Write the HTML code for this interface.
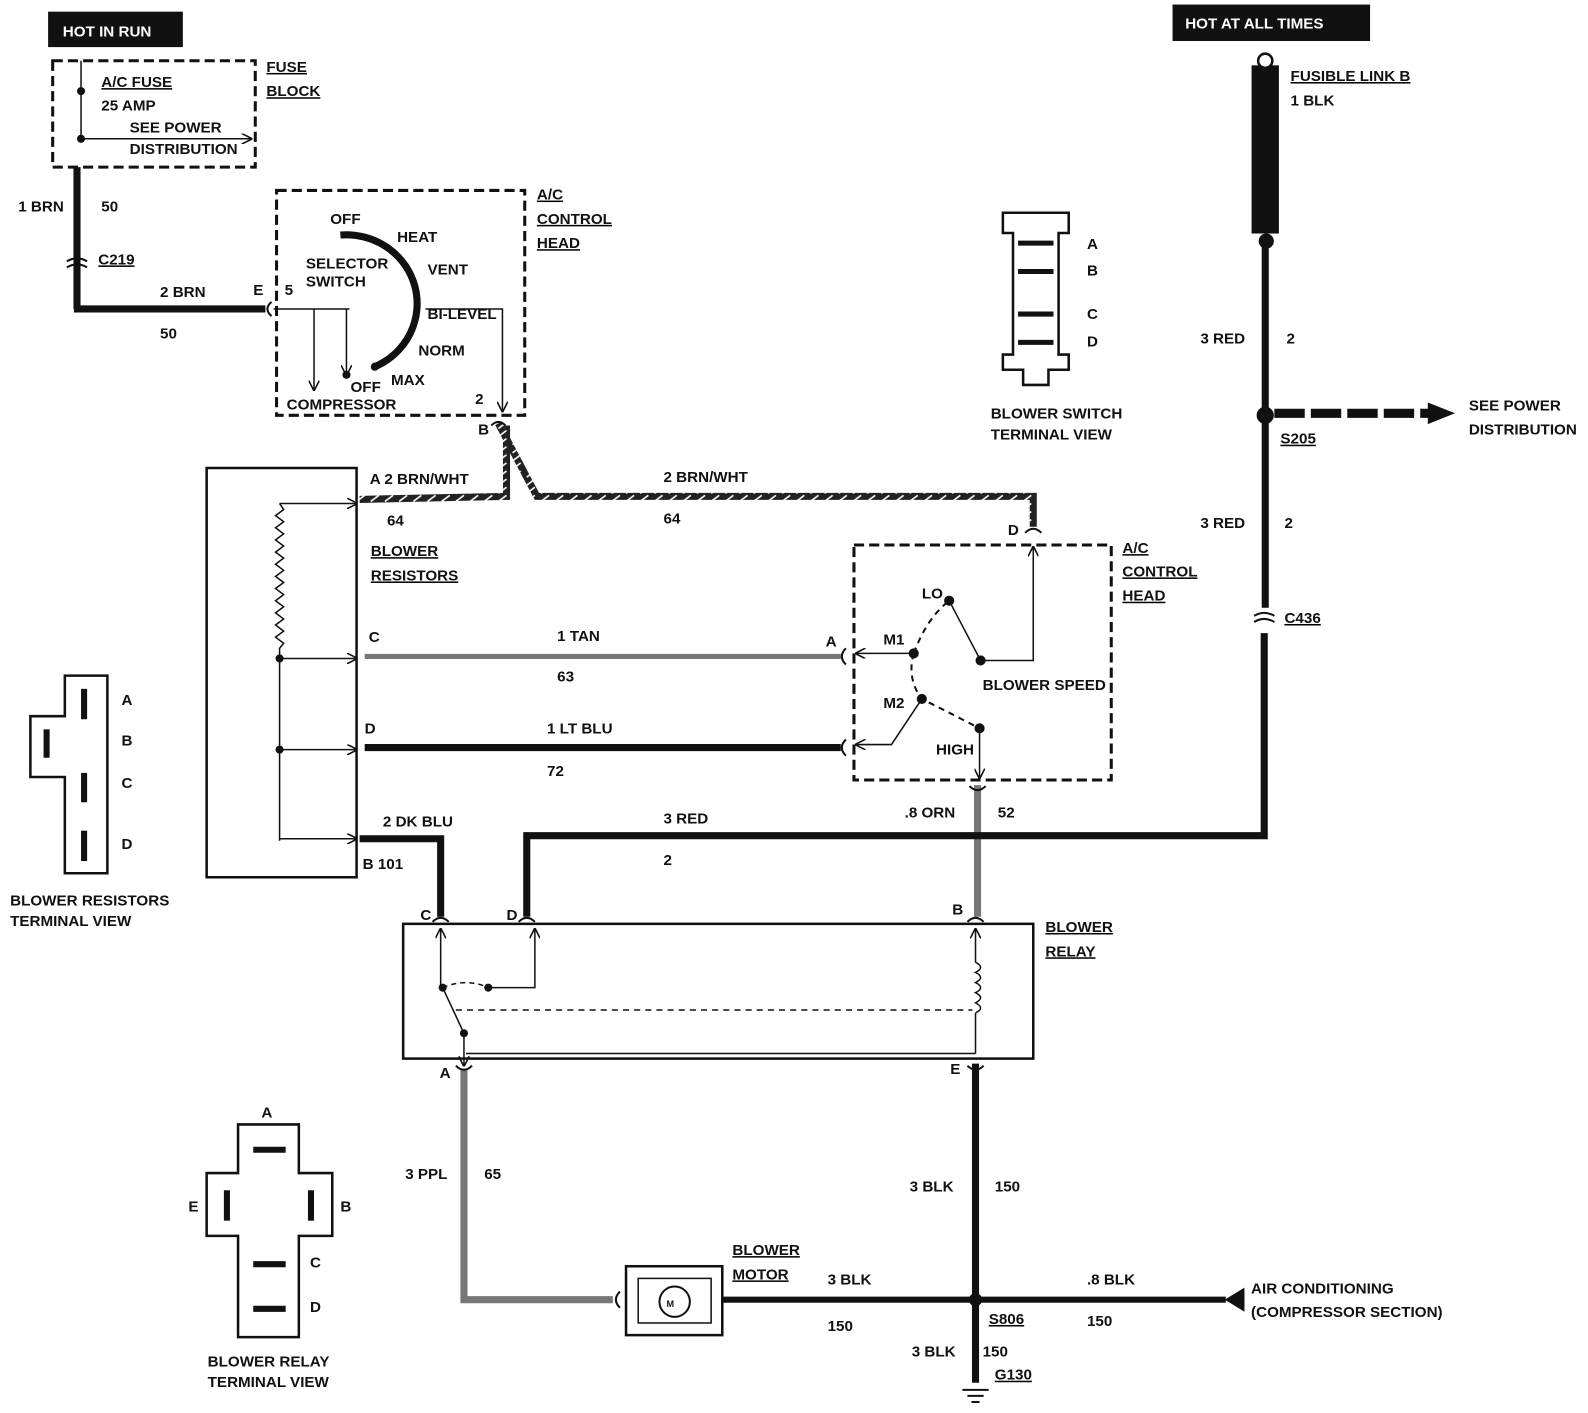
<!DOCTYPE html>
<html><head><meta charset="utf-8"><style>
body{margin:0;background:#fff}
svg text{font-family:"Liberation Sans",sans-serif;font-weight:bold;font-size:15px;fill:#111}
</style></head><body>
<svg width="1588" height="1408" viewBox="0 0 1588 1408" xmlns="http://www.w3.org/2000/svg">
<defs>
<marker id="ar" viewBox="0 0 10 10" refX="9" refY="5" markerWidth="7" markerHeight="7" orient="auto"><path d="M0,0 L10,5 L0,10" fill="none" stroke="#111" stroke-width="1.5"/></marker>
<pattern id="hatch" width="14" height="8" patternUnits="userSpaceOnUse"><rect width="14" height="8" fill="#222"/><path d="M2,7 L10,1" stroke="#fff" stroke-width="1.5"/></pattern>
</defs>
<g transform="scale(1.013)">
<g stroke="#111" fill="none">
<rect x="48" y="12" width="132" height="34" fill="#111"/>
<rect x="52" y="60" width="200" height="105" stroke-width="3" stroke-dasharray="10,5"/>
<line x1="80" y1="60" x2="80" y2="140" stroke-width="1.5"/>
<line x1="80" y1="137" x2="248" y2="137" stroke-width="1.5" marker-end="url(#ar)"/>
<line x1="76" y1="165" x2="76" y2="305" stroke-width="7"/>
<line x1="73" y1="305" x2="262" y2="305" stroke-width="7"/>
<rect x="273" y="188" width="245" height="222" stroke-width="3" stroke-dasharray="10,5"/>
<path d="M336,232 A70,68 0 0 1 370,362" stroke-width="7"/>
<line x1="270" y1="305" x2="345" y2="305" stroke-width="1.5"/>
<line x1="310" y1="305" x2="310" y2="385" stroke-width="1.5" marker-end="url(#ar)"/>
<line x1="342" y1="305" x2="342" y2="370" stroke-width="1.5" marker-end="url(#ar)"/>
<polyline points="420,305 496,305 496,406" stroke-width="1.5" marker-end="url(#ar)"/>
<polyline points="355,493 500,490 500,420" stroke="url(#hatch)" stroke-width="7"/>
<polyline points="492,418 530,490 1020,490 1020,520" stroke="url(#hatch)" stroke-width="7"/>
<rect x="204" y="462" width="148" height="404" stroke-width="2.5"/>
<path d="M276,497 l4,6 l-8,6 l8,6 l-8,6 l8,6 l-8,6 l8,6 l-8,6 l8,6 l-8,6 l8,6 l-8,6 l8,6 l-8,6 l8,6 l-8,6 l8,6 l-8,6 l8,6 l-8,6 l8,6 l-8,6 l8,6 l-4,5 L276,830" stroke-width="1.5"/>
<polyline points="276,497 352,497" stroke-width="1.5" marker-end="url(#ar)"/>
<line x1="276" y1="650" x2="352" y2="650" stroke-width="1.5" marker-end="url(#ar)"/>
<line x1="276" y1="740" x2="352" y2="740" stroke-width="1.5" marker-end="url(#ar)"/>
<line x1="276" y1="828" x2="352" y2="828" stroke-width="1.5" marker-end="url(#ar)"/>
<line x1="360" y1="648" x2="830" y2="648" stroke="#777" stroke-width="5"/>
<line x1="360" y1="738" x2="830" y2="738" stroke-width="7"/>
<rect x="843" y="538" width="254" height="232" stroke-width="3" stroke-dasharray="10,5"/>
<line x1="937" y1="593" x2="968" y2="652" stroke-width="1.5"/>
<polyline points="968,652 1020,652 1020,540" stroke-width="1.5" marker-end="url(#ar)"/>
<line x1="902" y1="645" x2="845" y2="645" stroke-width="1.5" marker-end="url(#ar)"/>
<polyline points="910,690 880,735 845,735" stroke-width="1.5" marker-end="url(#ar)"/>
<line x1="967" y1="719" x2="967" y2="768" stroke-width="1.5" marker-end="url(#ar)"/>
<path d="M902,645 Q915,610 937,593 M902,645 Q895,670 910,690 Q940,705 967,719" stroke-width="2" stroke-dasharray="6,5"/>
<line x1="965" y1="775" x2="965" y2="905" stroke="#777" stroke-width="7"/>
<polyline points="1248,625 1248,825 520,825 520,905" stroke-width="7"/>
<polyline points="355,828 435,828 435,905" stroke-width="7"/>
<rect x="398" y="912" width="622" height="133" stroke-width="2.5"/>
<line x1="435" y1="975" x2="435" y2="917" stroke-width="1.5" marker-end="url(#ar)"/>
<polyline points="482,975 528,975 528,917" stroke-width="1.5" marker-end="url(#ar)"/>
<path d="M437,975 Q460,965 482,975" stroke-width="1.5" stroke-dasharray="5,4"/>
<line x1="437" y1="975" x2="458" y2="1020" stroke-width="1.5"/>
<line x1="458" y1="1020" x2="458" y2="1052" stroke-width="1.5" marker-end="url(#ar)"/>
<line x1="450" y1="997" x2="960" y2="997" stroke-width="1.5" stroke-dasharray="6,5"/>
<line x1="460" y1="1040" x2="963" y2="1040" stroke-width="1.5"/>
<line x1="963" y1="950" x2="963" y2="917" stroke-width="1.5" marker-end="url(#ar)"/>
<path d="M963,950 q10,5 0,10 q10,5 0,10 q10,5 0,10 q10,5 0,10 q10,5 0,10" stroke-width="1.5"/>
<line x1="963" y1="1000" x2="963" y2="1040" stroke-width="1.5"/>
<polyline points="458,1055 458,1283 605,1283" stroke="#777" stroke-width="7"/>
<rect x="618" y="1250" width="95" height="68" stroke-width="2.5"/>
<rect x="630" y="1262" width="72" height="44" stroke-width="1.5"/>
<circle cx="666" cy="1285" r="15" stroke-width="2"/>
<line x1="963" y1="1050" x2="963" y2="1365" stroke-width="7"/>
<line x1="713" y1="1283" x2="1210" y2="1283" stroke-width="6"/>
<path d="M1210,1283 L1228,1272 L1228,1294 Z" fill="#111"/>
<circle cx="963" cy="1283" r="6" fill="#111"/>
<line x1="950" y1="1372" x2="976" y2="1372" stroke-width="2"/><line x1="955" y1="1378" x2="971" y2="1378" stroke-width="2"/><line x1="959" y1="1384" x2="967" y2="1384" stroke-width="2"/>
<rect x="1158" y="5" width="194" height="35" fill="#111"/>
<rect x="1236" y="65" width="26" height="165" fill="#111"/>
<circle cx="1249" cy="60" r="7" stroke-width="2.5" fill="#fff"/>
<circle cx="1250" cy="238" r="7" fill="#111"/>
<line x1="1249" y1="240" x2="1249" y2="600" stroke-width="7"/>
<circle cx="1249" cy="410" r="8" fill="#111"/>
<line x1="1258" y1="408" x2="1412" y2="408" stroke-width="9" stroke-dasharray="30,6"/>
<path d="M1410,398 L1435,408 L1410,418 Z" fill="#111"/>
<path d="M66,258 q10,-6 20,0 M66,264 q10,-6 20,0" stroke-width="2"/>
<path d="M268,298 q-8,7 0,14" stroke-width="2"/>
<path d="M485,420 q7,-7 14,0" stroke-width="2"/>
<path d="M1238,608 q10,-6 20,0 M1238,614 q10,-6 20,0" stroke-width="2"/>
<path d="M1012,526 q8,-8 16,0" stroke-width="2"/><path d="M835,640 q-8,8 0,16" stroke-width="2"/><path d="M835,730 q-8,8 0,16" stroke-width="2"/>
<path d="M957,776 q8,8 16,0" stroke-width="2"/>
<path d="M427,910 q8,-8 16,0" stroke-width="2"/><path d="M512,910 q8,-8 16,0" stroke-width="2"/><path d="M955,910 q8,-8 16,0" stroke-width="2"/>
<path d="M450,1052 q8,8 16,0" stroke-width="2"/><path d="M955,1052 q8,8 16,0" stroke-width="2"/>
<path d="M612,1275 q-8,8 0,16" stroke-width="2"/>
<path d="M990,210 h65 v20 h-10 v120 h10 v15 h-20 v15 h-25 v-15 h-20 v-15 h10 v-120 h-10 z" stroke-width="2.5"/>
<g stroke-width="5"><line x1="1005" y1="240" x2="1040" y2="240"/><line x1="1005" y1="268" x2="1040" y2="268"/><line x1="1005" y1="310" x2="1040" y2="310"/><line x1="1005" y1="338" x2="1040" y2="338"/></g>
<path d="M64,667 h42 v195 h-42 v-95 h-34 v-60 h34 z" stroke-width="2.5"/>
<g stroke-width="6"><line x1="83" y1="680" x2="83" y2="710"/><line x1="46" y1="720" x2="46" y2="748"/><line x1="83" y1="763" x2="83" y2="792"/><line x1="83" y1="820" x2="83" y2="850"/></g>
<path d="M235,1110 h60 v48 h33 v62 h-33 v100 h-60 v-100 h-31 v-62 h31 z" stroke-width="2.5"/>
<g stroke-width="6"><line x1="250" y1="1135" x2="282" y2="1135"/><line x1="224" y1="1175" x2="224" y2="1205"/><line x1="307" y1="1175" x2="307" y2="1205"/><line x1="250" y1="1248" x2="282" y2="1248"/><line x1="250" y1="1292" x2="282" y2="1292"/></g>
</g>
<g fill="#111">
<circle cx="80" cy="90" r="4"/><circle cx="80" cy="137" r="4"/>
<circle cx="342" cy="370" r="4"/><circle cx="370" cy="362" r="4"/>
<circle cx="937" cy="593" r="5"/><circle cx="902" cy="645" r="5"/><circle cx="968" cy="652" r="5"/><circle cx="910" cy="690" r="5"/><circle cx="967" cy="719" r="5"/>
<circle cx="276" cy="650" r="4"/><circle cx="276" cy="740" r="4"/>
<circle cx="437" cy="975" r="4"/><circle cx="482" cy="975" r="4"/><circle cx="458" cy="1020" r="4"/>
</g>
<text x="62" y="36" style="fill:#fff">HOT IN RUN</text>
<text x="1170" y="28" style="fill:#fff">HOT AT ALL TIMES</text>
<g text-decoration="underline">
<text x="100" y="86">A/C FUSE</text><text x="263" y="71">FUSE</text><text x="263" y="95">BLOCK</text>
<text x="530" y="197">A/C</text><text x="530" y="221">CONTROL</text><text x="530" y="245">HEAD</text>
<text x="97" y="261">C219</text>
<text x="366" y="549">BLOWER</text><text x="366" y="573">RESISTORS</text>
<text x="1108" y="546">A/C</text><text x="1108" y="569">CONTROL</text><text x="1108" y="593">HEAD</text>
<text x="1032" y="920">BLOWER</text><text x="1032" y="944">RELAY</text>
<text x="723" y="1239">BLOWER</text><text x="723" y="1263">MOTOR</text>
<text x="976" y="1307">S806</text><text x="982" y="1362">G130</text>
<text x="1274" y="80">FUSIBLE LINK B</text><text x="1264" y="438">S205</text><text x="1268" y="615">C436</text>
</g>
<g style="font-size:13px">
<text x="100" y="109">25 AMP</text><text x="128" y="131">SEE POWER</text><text x="128" y="152">DISTRIBUTION</text>
<text x="326" y="221">OFF</text><text x="392" y="239">HEAT</text><text x="302" y="265">SELECTOR</text><text x="302" y="283">SWITCH</text>
<text x="422" y="271">VENT</text><text x="422" y="315">BI-LEVEL</text><text x="413" y="351">NORM</text><text x="386" y="380">MAX</text>
<text x="346" y="387">OFF</text><text x="283" y="404">COMPRESSOR</text><text x="281" y="291">5</text><text x="469" y="399">2</text>
<text x="910" y="591">LO</text><text x="872" y="636">M1</text><text x="872" y="699">M2</text><text x="970" y="681">BLOWER SPEED</text><text x="924" y="745">HIGH</text>
<text x="978" y="413">BLOWER SWITCH</text><text x="978" y="434">TERMINAL VIEW</text>
<text x="10" y="894">BLOWER RESISTORS</text><text x="10" y="914">TERMINAL VIEW</text>
<text x="658" y="1290" style="font-size:9px">M</text>
</g>
<text x="18" y="209">1 BRN</text><text x="100" y="209">50</text>
<text x="158" y="293">2 BRN</text><text x="158" y="334">50</text><text x="250" y="291">E</text>
<text x="472" y="429">B</text>
<text x="365" y="478">A 2 BRN/WHT</text><text x="382" y="519">64</text>
<text x="655" y="476">2 BRN/WHT</text><text x="655" y="517">64</text><text x="995" y="528">D</text>
<text x="364" y="634">C</text><text x="550" y="633">1 TAN</text><text x="550" y="673">63</text><text x="815" y="638">A</text>
<text x="360" y="724">D</text><text x="540" y="724">1 LT BLU</text><text x="540" y="766">72</text>
<text x="378" y="816">2 DK BLU</text><text x="358" y="858">B  101</text>
<text x="655" y="813">3 RED</text><text x="655" y="854">2</text>
<text x="893" y="807">.8 ORN</text><text x="985" y="807">52</text>
<text x="415" y="908">C</text><text x="500" y="908">D</text><text x="940" y="903">B</text>
<text x="434" y="1064">A</text><text x="938" y="1060">E</text>
<text x="400" y="1164">3 PPL</text><text x="478" y="1164">65</text>
<text x="898" y="1176">3 BLK</text><text x="982" y="1176">150</text>
<text x="817" y="1268">3 BLK</text><text x="817" y="1314">150</text>
<text x="1073" y="1268">.8 BLK</text><text x="1073" y="1309">150</text>
<text x="1235" y="1277">AIR CONDITIONING</text><text x="1235" y="1300">(COMPRESSOR SECTION)</text>
<text x="900" y="1339">3 BLK</text><text x="970" y="1339">150</text>
<text x="1274" y="104">1 BLK</text>
<text x="1185" y="339">3 RED</text><text x="1270" y="339">2</text>
<text x="1450" y="405">SEE POWER</text><text x="1450" y="429">DISTRIBUTION</text>
<text x="1185" y="521">3 RED</text><text x="1268" y="521">2</text>
<text x="1073" y="246">A</text><text x="1073" y="272">B</text><text x="1073" y="315">C</text><text x="1073" y="342">D</text>
<text x="120" y="696">A</text><text x="120" y="736">B</text><text x="120" y="778">C</text><text x="120" y="838">D</text>
<text x="258" y="1103">A</text><text x="186" y="1196">E</text><text x="336" y="1196">B</text><text x="306" y="1251">C</text><text x="306" y="1295">D</text>
<text x="205" y="1349">BLOWER RELAY</text><text x="205" y="1369">TERMINAL VIEW</text>
</g>
</svg>
</body></html>
